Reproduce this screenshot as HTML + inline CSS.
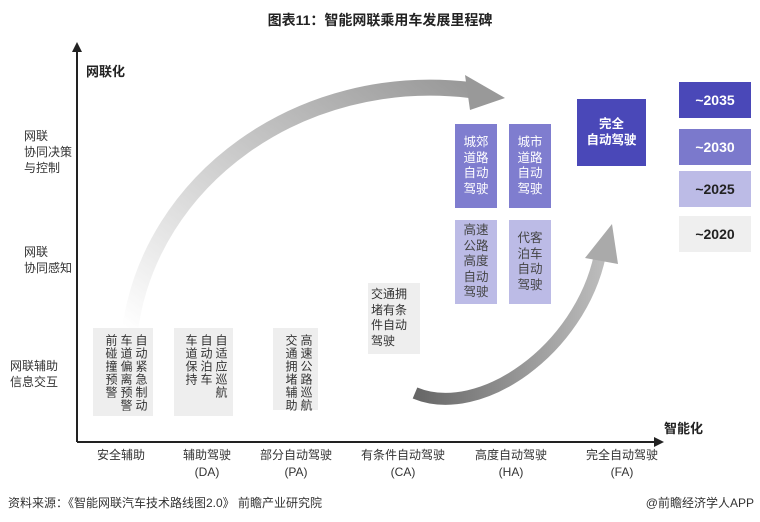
<!DOCTYPE html>
<html><head><meta charset="utf-8"><style>
body{margin:0;width:760px;height:522px;background:#fff;font-family:"Liberation Sans","Noto Sans CJK SC",sans-serif;position:relative;overflow:hidden}
.a{position:absolute}
.v{position:absolute;writing-mode:vertical-rl;font-size:12px;line-height:15px;color:#333;letter-spacing:1px;padding:6px 5px;background:#eee;white-space:nowrap}
.b{position:absolute;color:#fff;font-size:12.5px;line-height:15.5px;text-align:center;display:flex;align-items:center;justify-content:center}
.y{position:absolute;left:679px;width:72px;height:36px;display:flex;align-items:center;justify-content:center;font-size:14px;font-weight:bold}
.yl{position:absolute;font-size:12px;color:#333;line-height:16px}
.xl{position:absolute;font-size:12px;color:#333;text-align:center;width:110px;line-height:17px}
</style></head><body>
<div class="a" style="left:0;width:760px;top:10px;text-align:center;font-size:14px;font-weight:bold;color:#222">图表11：智能网联乘用车发展里程碑</div>
<svg class="a" style="left:0;top:0" width="760" height="522">
<defs><linearGradient id="g1" x1="0" y1="1" x2="1" y2="0"><stop offset="0" stop-color="#fff"/><stop offset="1" stop-color="#999"/></linearGradient>
<linearGradient id="g2" x1="0" y1="0" x2="1" y2="0"><stop offset="0" stop-color="#666"/><stop offset="1" stop-color="#bbb"/></linearGradient></defs>
<line x1="77" y1="48" x2="77" y2="442" stroke="#222" stroke-width="2"/>
<polygon points="72,52 77,42 82,52" fill="#222"/>
<line x1="77" y1="442" x2="658" y2="442" stroke="#222" stroke-width="2"/>
<polygon points="654,437 664,442 654,447" fill="#222"/>
<path d="M130,330 C150,180 300,70 470,90" fill="none" stroke="url(#g1)" stroke-width="16"/>
<polygon points="465,75 505,98 470,110" fill="#999"/>
<path d="M415,393 C480,420 580,350 600,255" fill="none" stroke="url(#g2)" stroke-width="12"/>
<polygon points="585,258 612,224 618,264" fill="#aaa"/>
</svg>
<div class="a" style="left:86px;top:61px;font-size:13px;font-weight:bold;color:#222">网联化</div>
<div class="a" style="left:664px;top:418px;font-size:13px;font-weight:bold;color:#222">智能化</div>
<div class="yl" style="left:24px;top:128px">网联<br>协同决策<br>与控制</div>
<div class="yl" style="left:24px;top:244px">网联<br>协同感知</div>
<div class="yl" style="left:10px;top:358px">网联辅助<br>信息交互</div>
<div class="v" style="left:93px;top:328px;height:76px;width:50px">自动紧急制动<br>车道偏离预警<br>前碰撞预警</div>
<div class="v" style="left:174px;top:328px;height:76px;width:49px">自适应巡航<br>自动泊车<br>车道保持</div>
<div class="v" style="left:273px;top:328px;height:70px;width:35px">高速公路巡航<br>交通拥堵辅助</div>
<div class="a" style="left:368px;top:283px;width:46px;height:63px;background:#eee;padding:4px 3px;font-size:12px;line-height:15.5px;color:#333">交通拥堵有条件自动驾驶</div>
<div class="b" style="left:455px;top:124px;width:42px;height:84px;background:#7f7dcf">城郊<br>道路<br>自动<br>驾驶</div>
<div class="b" style="left:509px;top:124px;width:42px;height:84px;background:#7f7dcf">城市<br>道路<br>自动<br>驾驶</div>
<div class="b" style="left:455px;top:220px;width:42px;height:84px;background:#bcbbe6;color:#444">高速<br>公路<br>高度<br>自动<br>驾驶</div>
<div class="b" style="left:509px;top:220px;width:42px;height:84px;background:#bcbbe6;color:#444">代客<br>泊车<br>自动<br>驾驶</div>
<div class="b" style="left:577px;top:99px;width:69px;height:67px;background:#4a48b8;font-weight:bold">完全<br>自动驾驶</div>
<div class="y" style="top:82px;background:#4a48b8;color:#fff">~2035</div>
<div class="y" style="top:129px;background:#7b79cc;color:#fff">~2030</div>
<div class="y" style="top:171px;background:#bcbbe6;color:#222">~2025</div>
<div class="y" style="top:216px;background:#efefef;color:#222">~2020</div>
<div class="xl" style="left:66px;top:447px">安全辅助</div>
<div class="xl" style="left:152px;top:447px">辅助驾驶<br>(DA)</div>
<div class="xl" style="left:241px;top:447px">部分自动驾驶<br>(PA)</div>
<div class="xl" style="left:348px;top:447px">有条件自动驾驶<br>(CA)</div>
<div class="xl" style="left:456px;top:447px">高度自动驾驶<br>(HA)</div>
<div class="xl" style="left:567px;top:447px">完全自动驾驶<br>(FA)</div>
<div class="a" style="left:8px;top:494px;font-size:12px;color:#333">资料来源：《智能网联汽车技术路线图2.0》 前瞻产业研究院</div>
<div class="a" style="right:6px;top:494px;font-size:12px;color:#333">@前瞻经济学人APP</div>
</body></html>
